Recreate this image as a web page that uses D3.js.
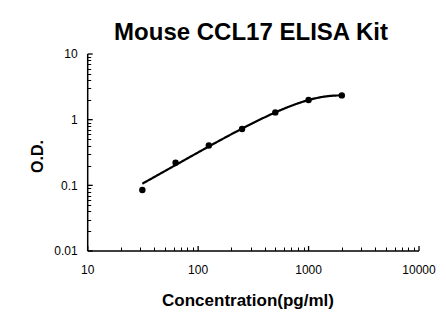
<!DOCTYPE html>
<html>
<head>
<meta charset="utf-8">
<script src="https://cdn.jsdelivr.net/npm/d3@7"></script>
<style>
  html, body { margin: 0; padding: 0; background: #fff; }
  svg { display: block; font-family: "Liberation Sans", Arial, sans-serif; }
</style>
</head>
<body>
<svg id="chart" width="446" height="326"></svg>
<script>
// Standard curve: concentration (pg/ml) vs optical density
const concentrations = [31.25, 62.5, 125, 250, 500, 1000, 2000];
const odValues = [0.085, 0.221, 0.405, 0.72, 1.29, 1.99, 2.34];
const xTickLabels = ["10", "100", "1000", "10000"];
const yTickLabels = ["0.01", "0.1", "1", "10"];

const svg = d3.select("#chart");

const x = d3.scaleLog().domain([10, 10000]).range([87.7, 419]);
const y = d3.scaleLog().domain([0.01, 10]).range([251, 54]);

// Minor tick positions (2..9 within each decade)
function minorTicks(lo, hi) {
  const out = [];
  for (let d = lo; d < hi; d *= 10) for (let k = 2; k <= 9; k++) out.push(d * k);
  return out;
}

// Title
svg.append("text")
  .attr("x", 251).attr("y", 39.5)
  .attr("text-anchor", "middle")
  .attr("font-weight", "bold").attr("font-size", 24)
  .text("Mouse CCL17 ELISA Kit");

// Y axis: ticks pointing into the plot
const yAxis = svg.append("g").attr("transform", `translate(${x.range()[0]},0)`);
yAxis.append("line").attr("x1", 0).attr("x2", 0)
  .attr("y1", y(0.01)).attr("y2", y(10))
  .attr("stroke", "#000").attr("stroke-width", 1.5);
yAxis.selectAll(".ymaj").data(yTickLabels.map(Number)).join("line")
  .attr("x1", 0).attr("x2", 5).attr("y1", d => y(d)).attr("y2", d => y(d))
  .attr("stroke", "#000").attr("stroke-width", 1.3);
yAxis.selectAll(".ymin").data(minorTicks(0.01, 10)).join("line")
  .attr("x1", 0).attr("x2", 3.5).attr("y1", d => Math.round(y(d)) + 0.5).attr("y2", d => Math.round(y(d)) + 0.5)
  .attr("stroke", "#000").attr("stroke-width", 1);
yAxis.selectAll(".ylab").data(yTickLabels).join("text")
  .attr("x", -10).attr("y", d => y(+d)).attr("dy", "0.35em")
  .attr("text-anchor", "end").attr("font-size", 12).attr("fill", "#000")
  .text(d => d);

// X axis: ticks pointing up into the plot
const xAxis = svg.append("g").attr("transform", `translate(0,${y.range()[0]})`);
xAxis.append("line").attr("y1", 0).attr("y2", 0)
  .attr("x1", x(10)).attr("x2", x(10000))
  .attr("stroke", "#000").attr("stroke-width", 1.5);
xAxis.selectAll(".xmaj").data(xTickLabels.map(Number)).join("line")
  .attr("y1", 0).attr("y2", -5).attr("x1", d => x(d)).attr("x2", d => x(d))
  .attr("stroke", "#000").attr("stroke-width", 1.3);
xAxis.selectAll(".xmin").data(minorTicks(10, 10000)).join("line")
  .attr("y1", 0).attr("y2", -3.5).attr("x1", d => Math.round(x(d)) + 0.5).attr("x2", d => Math.round(x(d)) + 0.5)
  .attr("stroke", "#000").attr("stroke-width", 1);
xAxis.selectAll(".xlab").data(xTickLabels).join("text")
  .attr("x", d => x(+d)).attr("y", 18.5).attr("dy", "0.35em")
  .attr("text-anchor", "middle").attr("font-size", 12).attr("fill", "#000")
  .text(d => d);

// Axis titles
svg.append("text")
  .attr("x", 248).attr("y", 306)
  .attr("text-anchor", "middle")
  .attr("font-weight", "bold").attr("font-size", 17)
  .text("Concentration(pg/ml)");
svg.append("text")
  .attr("transform", "translate(42.5,156.5) rotate(-90)")
  .attr("text-anchor", "middle")
  .attr("font-weight", "bold").attr("font-size", 16)
  .text("O.D.");

// Cubic least-squares trendline (concentration in thousands of pg/ml)
function polyFit(xs, ys, deg) {
  const n = deg + 1;
  const A = Array.from({ length: n }, () => new Array(n + 1).fill(0));
  xs.forEach((xi, i) => {
    for (let r = 0; r < n; r++) {
      for (let c = 0; c < n; c++) A[r][c] += Math.pow(xi, r + c);
      A[r][n] += ys[i] * Math.pow(xi, r);
    }
  });
  for (let p = 0; p < n; p++) {
    let m = p;
    for (let r = p + 1; r < n; r++) if (Math.abs(A[r][p]) > Math.abs(A[m][p])) m = r;
    [A[p], A[m]] = [A[m], A[p]];
    for (let r = 0; r < n; r++) {
      if (r === p) continue;
      const f = A[r][p] / A[p][p];
      for (let c = p; c <= n; c++) A[r][c] -= f * A[p][c];
    }
  }
  return A.map((row, i) => row[n] / row[i]);
}
const kx = concentrations.map(c => c / 1000);
const coef = polyFit(kx, odValues, 3);
const evalPoly = t => coef.reduce((s, c, i) => s + c * Math.pow(t, i), 0);
const lo = Math.log10(concentrations[0]), hi = Math.log10(concentrations[concentrations.length - 1]);
const curve = d3.range(0, 201).map(i => {
  const c = Math.pow(10, lo + (hi - lo) * i / 200);
  return [c, evalPoly(c / 1000)];
}).filter(d => d[1] > 0);
svg.append("path")
  .datum(curve)
  .attr("fill", "none").attr("stroke", "#000").attr("stroke-width", 2.2)
  .attr("d", d3.line().x(d => x(d[0])).y(d => y(d[1])));

// Data points
svg.selectAll(".pt").data(concentrations).join("circle")
  .attr("cx", d => x(d)).attr("cy", (d, i) => y(odValues[i]))
  .attr("r", 3.2).attr("fill", "#000");
</script>
</body>
</html>
